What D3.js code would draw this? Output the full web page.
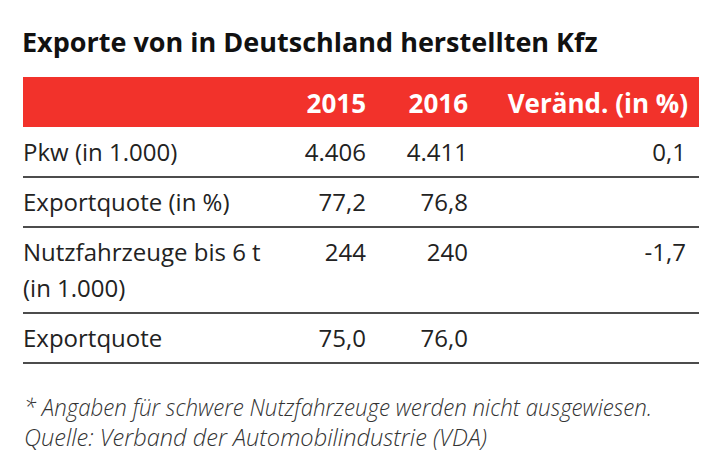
<!DOCTYPE html>
<html><head><meta charset="utf-8">
<title>Exporte von in Deutschland herstellten Kfz</title>
<style>
body { margin: 0; background: #fff; }
svg text { font-family: "Open Sans", sans-serif; }
</style>
<script src="https://cdnjs.cloudflare.com/ajax/libs/d3/7.8.5/d3.min.js"></script>
</head>
<body>
<div id="chart"></div>
<script>
// table content
const title = "Exporte von in Deutschland herstellten Kfz";
const columns = ["2015", "2016", "Veränd. (in %)"];
const rowLabels = [
  ["Pkw (in 1.000)"],
  ["Exportquote (in %)"],
  ["Nutzfahrzeuge bis 6 t", "(in 1.000)"],
  ["Exportquote"]
];
const values2015 = ["4.406", "77,2", "244", "75,0"];
const values2016 = ["4.411", "76,8", "240", "76,0"];
const change = ["0,1", "", "-1,7", ""];
const notes = [
  "* Angaben für schwere Nutzfahrzeuge werden nicht ausgewiesen.",
  "Quelle: Verband der Automobilindustrie (VDA)"
];

const width = 725, height = 468;
const left = 23, right = 699;
const headTop = 77, headH = 50;
const lineH = 36, rowPad = 50;
const noteWidths = [628, 463]; // footnote is set narrow (condensed look)

const svg = d3.select("#chart").append("svg")
  .attr("width", width)
  .attr("height", height);

// title
svg.append("text")
  .attr("x", 22)
  .attr("y", 52)
  .attr("font-size", 27)
  .attr("font-weight", 700)
  .attr("fill", "#111")
  .text(title);

// column right edges
const colX = d3.scaleOrdinal()
  .domain(columns)
  .range([366, 468, 688]);

// header band
svg.append("rect")
  .attr("x", left)
  .attr("y", headTop)
  .attr("width", right - left)
  .attr("height", headH)
  .attr("fill", "#f2322b");

svg.selectAll(".head")
  .data(columns)
  .join("text")
  .attr("class", "head")
  .attr("x", d => colX(d))
  .attr("y", headTop + 36)
  .attr("text-anchor", "end")
  .attr("font-size", 26)
  .attr("font-weight", 700)
  .attr("fill", "#fff")
  .text(d => d);

// rows: compute top of each row from number of label lines
let y = headTop + headH;
const rows = rowLabels.map((lab, i) => {
  const r = {lab, top: y, v: [values2015[i], values2016[i], change[i]]};
  y += rowPad + (lab.length - 1) * lineH;
  r.bottom = y;
  return r;
});

const g = svg.selectAll(".row")
  .data(rows)
  .join("g")
  .attr("class", "row")
  .attr("transform", d => `translate(0,${d.top})`);

g.selectAll(".lab")
  .data(d => d.lab)
  .join("text")
  .attr("class", "lab")
  .attr("x", left)
  .attr("y", (d, i) => 34 + i * lineH)
  .attr("font-size", 24)
  .attr("fill", "#222")
  .text(d => d);

g.selectAll(".val")
  .data(d => d.v.map((v, j) => ({v, col: columns[j]})))
  .join("text")
  .attr("class", "val")
  .attr("x", d => colX(d.col) - (d.col === columns[2] ? 2 : 0))
  .attr("y", 34)
  .attr("text-anchor", "end")
  .attr("font-size", 24)
  .attr("fill", "#222")
  .text(d => d.v);

g.append("line")
  .attr("x1", left)
  .attr("x2", right)
  .attr("y1", d => d.bottom - d.top)
  .attr("y2", d => d.bottom - d.top)
  .attr("stroke", "#111")
  .attr("stroke-width", 1.5);

// footnotes
svg.selectAll(".note")
  .data(notes)
  .join("text")
  .attr("class", "note")
  .attr("x", 24)
  .attr("y", (d, i) => 416 + i * 30)
  .attr("font-size", 23)
  .attr("font-style", "italic")
  .attr("font-weight", 300)
  .attr("fill", "#333")
  .attr("textLength", (d, i) => noteWidths[i])
  .attr("lengthAdjust", "spacingAndGlyphs")
  .text(d => d);
</script>
</body>
</html>
